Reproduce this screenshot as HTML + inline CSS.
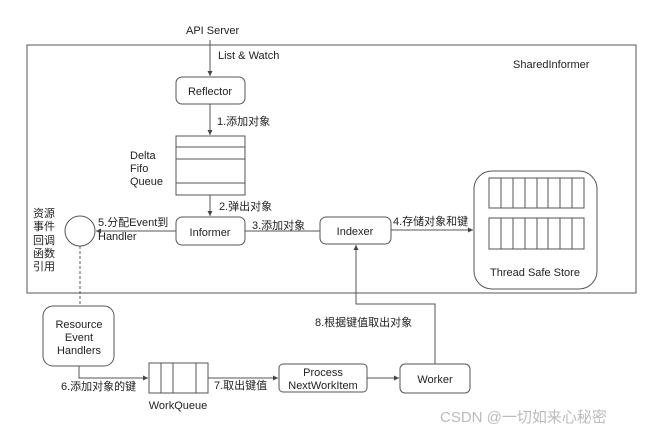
<!DOCTYPE html>
<html><head><meta charset="utf-8"><style>
body{margin:0;background:#fff}
svg text{font-family:"Liberation Sans","Noto Sans CJK SC",sans-serif;font-size:11px;fill:#222}
</style></head><body>
<svg width="666" height="439" xmlns="http://www.w3.org/2000/svg">
<defs><marker id="a" markerWidth="6" markerHeight="6" refX="5" refY="3" orient="auto"><path d="M0,0.5 L5,3 L0,5.5z" fill="#444"/></marker></defs>
<g stroke="#555" stroke-width="1" fill="none">
<rect x="27" y="45" width="609" height="248"/>
<line x1="210" y1="40" x2="210" y2="76" marker-end="url(#a)"/>
<rect x="176" y="77" width="69" height="27" rx="6" fill="#fff"/>
<line x1="210" y1="104" x2="210" y2="135" marker-end="url(#a)"/>
<rect x="176" y="136" width="69" height="59"/>
<line x1="176" y1="147" x2="245" y2="147"/><line x1="176" y1="159" x2="245" y2="159"/><line x1="176" y1="183" x2="245" y2="183"/>
<line x1="210" y1="195" x2="210" y2="216" marker-end="url(#a)"/>
<rect x="176" y="217" width="69" height="28" rx="6"/>
<line x1="176" y1="231" x2="96" y2="231" marker-end="url(#a)"/>
<circle cx="80" cy="231" r="15"/>
<line x1="245" y1="231" x2="320" y2="231"/>
<rect x="320" y="217" width="71" height="27" rx="6"/>
<line x1="391" y1="230" x2="473" y2="230" marker-end="url(#a)"/>
<rect x="474" y="171" width="123" height="118" rx="18"/>
<rect x="489" y="178" width="95" height="30"/><rect x="489" y="218" width="95" height="31"/>
<path d="M501 178V208M513 178V208M525 178V208M537 178V208M548 178V208M560 178V208M572 178V208M501 218V249M513 218V249M525 218V249M537 218V249M548 218V249M560 218V249M572 218V249"/>
<line x1="80" y1="246" x2="80" y2="306" stroke-dasharray="3,2"/>
<rect x="43" y="306" width="71" height="60" rx="10"/>
<polyline points="79,366 79,378 148,378" marker-end="url(#a)"/>
<rect x="149" y="363" width="59" height="30"/>
<path d="M161 363V393M173 363V393M196 363V393"/>
<line x1="208" y1="378" x2="278" y2="378" marker-end="url(#a)"/>
<rect x="279" y="364" width="88" height="28" rx="4"/>
<line x1="367" y1="378" x2="399" y2="378" marker-end="url(#a)"/>
<rect x="400" y="364" width="70" height="29" rx="5"/>
<polyline points="435,364 435,304 356,304 356,245" marker-end="url(#a)"/>
</g>
<text x="186" y="34">API Server</text>
<text x="218" y="59">List &amp; Watch</text>
<text x="513" y="68">SharedInformer</text>
<text x="210" y="95" text-anchor="middle">Reflector</text>
<text x="217" y="125">1.添加对象</text>
<text x="130" y="159">Delta</text><text x="130" y="172">Fifo</text><text x="130" y="185">Queue</text>
<text x="219" y="210">2.弹出对象</text>
<text x="210" y="236" text-anchor="middle">Informer</text>
<text x="252" y="229">3.添加对象</text>
<text x="355" y="235" text-anchor="middle">Indexer</text>
<text x="393" y="225">4.存储对象和键</text>
<text x="535" y="276" text-anchor="middle">Thread Safe Store</text>
<text x="98" y="226">5.分配Event到</text><text x="98" y="240">Handler</text>
<text x="33" y="217">资源</text><text x="33" y="230">事件</text><text x="33" y="244">回调</text><text x="33" y="257">函数</text><text x="33" y="270">引用</text>
<text x="79" y="328" text-anchor="middle">Resource</text><text x="79" y="341" text-anchor="middle">Event</text><text x="79" y="354" text-anchor="middle">Handlers</text>
<text x="61" y="390">6.添加对象的键</text>
<text x="178" y="409" text-anchor="middle">WorkQueue</text>
<text x="214" y="389">7.取出键值</text>
<text x="323" y="376" text-anchor="middle">Process</text><text x="323" y="389" text-anchor="middle">NextWorkItem</text>
<text x="435" y="383" text-anchor="middle">Worker</text>
<text x="315" y="326">8.根据键值取出对象</text>
<text x="440" y="422" style="font-size:15px;fill:#bbb">CSDN @一切如来心秘密</text>
</svg>
</body></html>
